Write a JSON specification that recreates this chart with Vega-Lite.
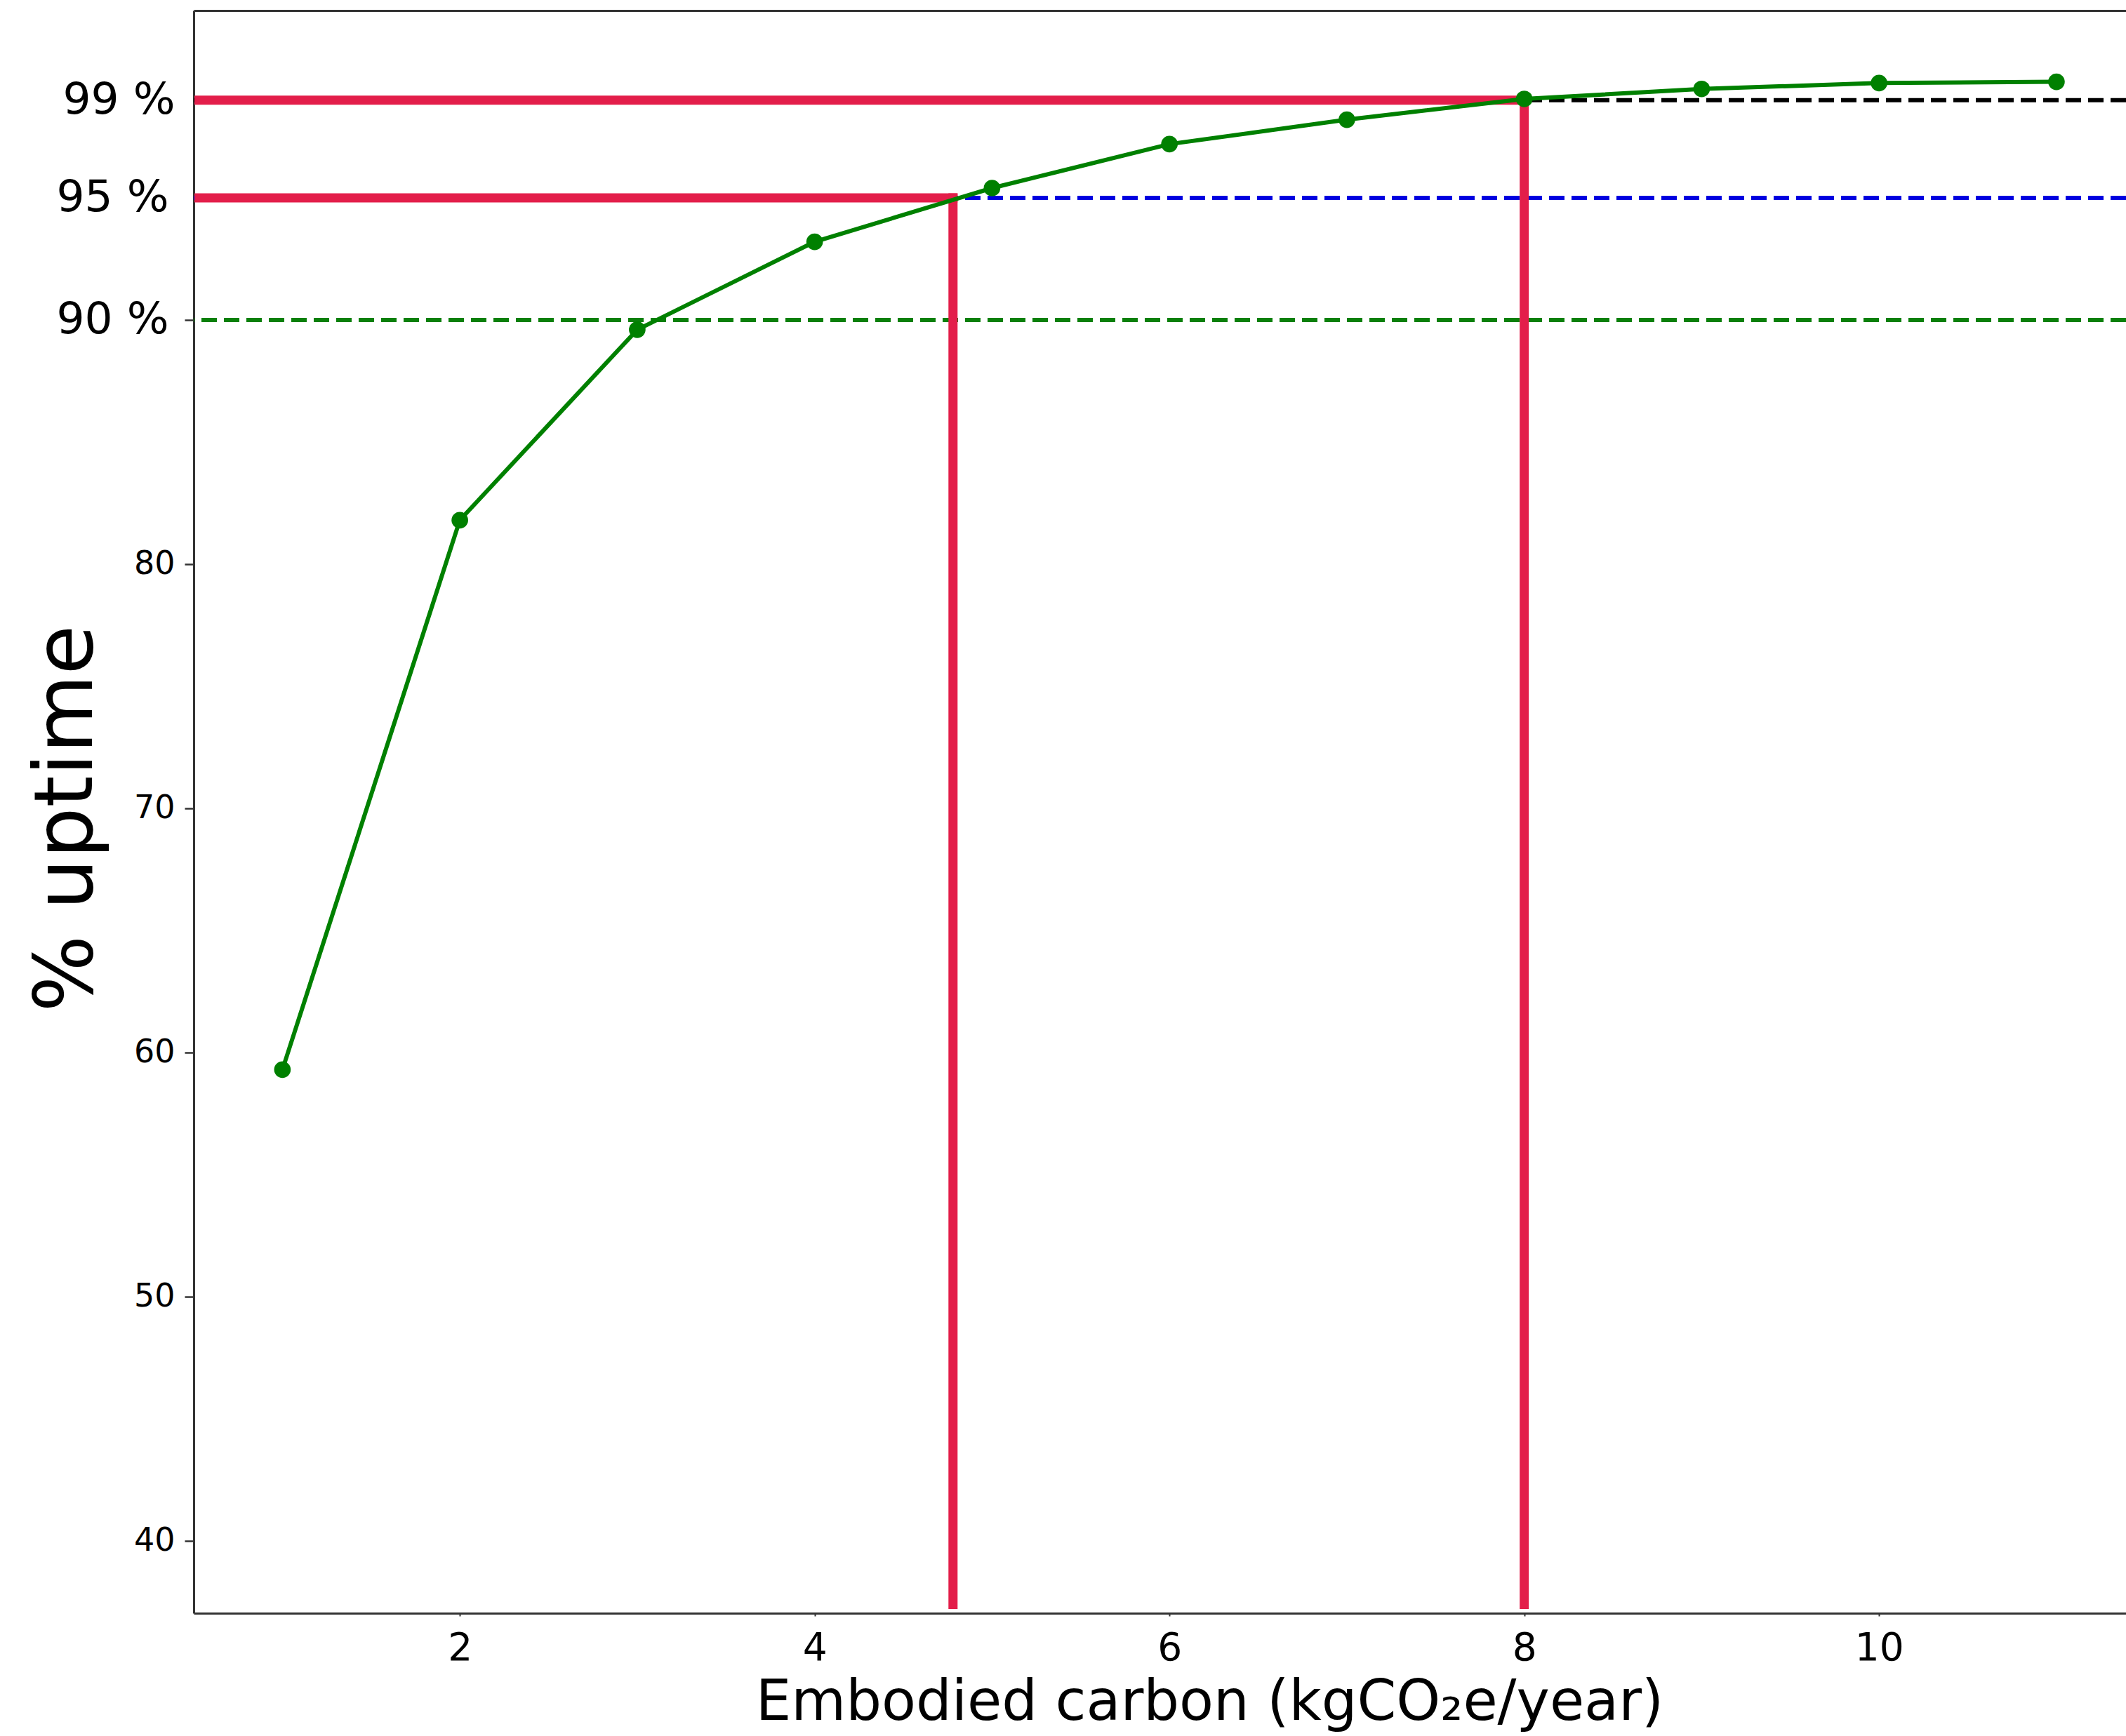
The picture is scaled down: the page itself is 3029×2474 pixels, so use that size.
{
  "$schema": "https://vega.github.io/schema/vega-lite/v6.json",
  "width": 2753,
  "height": 2284,
  "autosize": {"type": "none"},
  "padding": {"left": 276, "top": 15, "right": 0, "bottom": 175},
  "background": "white",
  "config": {"view": {"stroke": null}, "font": "DejaVu Sans"},
  "datasets": {
    "uptime": [
      {"carbon": 1, "uptime": 59.3},
      {"carbon": 2, "uptime": 81.8},
      {"carbon": 3, "uptime": 89.6},
      {"carbon": 4, "uptime": 93.2},
      {"carbon": 5, "uptime": 95.4},
      {"carbon": 6, "uptime": 97.2},
      {"carbon": 7, "uptime": 98.2},
      {"carbon": 8, "uptime": 99.05},
      {"carbon": 9, "uptime": 99.46},
      {"carbon": 10, "uptime": 99.7},
      {"carbon": 11, "uptime": 99.75}
    ],
    "thresholds": [
      {"level": 90, "band": "90 %"},
      {"level": 95, "band": "95 %"},
      {"level": 99, "band": "99 %"}
    ],
    "guides": [
      {"x": 0.53, "x2": 4.78, "y": 95, "y2": 95},
      {"x": 4.78, "x2": 4.78, "y": 95, "y2": 37.4},
      {"x": 0.53, "x2": 8.0, "y": 99, "y2": 99},
      {"x": 8.0, "x2": 8.0, "y": 99, "y2": 37.4}
    ]
  },
  "resolve": {"axis": {"x": "independent", "y": "independent"}},
  "layer": [
    {
      "data": {"name": "thresholds"},
      "mark": {"type": "rule", "strokeWidth": 6, "strokeDash": [22, 10]},
      "encoding": {
        "y": {
          "field": "level",
          "type": "quantitative",
          "scale": {"domain": [37.04, 102.67], "nice": false, "zero": false},
          "axis": {
            "values": [40, 50, 60, 70, 80, 90, 95, 99],
            "labelExpr": "datum.value >= 90 ? datum.value + ' %' : datum.label",
            "labelFontSize": {"condition": {"test": "datum.value >= 90", "value": 63}, "value": 46},
            "labelPadding": {"condition": {"test": "datum.value == 90 || datum.value == 95", "value": 23}, "value": 14},
            "tickOpacity": {"condition": {"test": "datum.value == 95 || datum.value == 99", "value": 0}, "value": 1},
            "labelColor": "black",
            "labelFont": "DejaVu Sans",
            "tickSize": 13,
            "tickWidth": 2.5,
            "tickColor": "#333333",
            "domainColor": "#333333",
            "domainWidth": 3,
            "grid": false,
            "title": "% uptime",
            "titleFont": "DejaVu Sans",
            "titleFontSize": 115,
            "titleFontWeight": "normal",
            "titleColor": "black",
            "titleAngle": 270,
            "titleBaseline": "alphabetic",
            "titleAlign": "center",
            "titleX": -146,
            "titleY": 1151
          }
        },
        "color": {
          "field": "band",
          "type": "nominal",
          "scale": {"domain": ["90 %", "95 %", "99 %"], "range": ["#0a800a", "#0000e0", "#000000"]},
          "legend": null
        }
      }
    },
    {
      "data": {"name": "guides"},
      "mark": {"type": "rule", "color": "#e31e4a", "strokeWidth": 13, "strokeCap": "square"},
      "encoding": {
        "x": {
          "field": "x",
          "type": "quantitative",
          "scale": {"domain": [0.5, 11.392], "nice": false, "zero": false},
          "axis": {
            "orient": "top",
            "labels": false,
            "ticks": false,
            "title": null,
            "grid": false,
            "domain": true,
            "domainColor": "#333333",
            "domainWidth": 3
          }
        },
        "x2": {"field": "x2"},
        "y": {"field": "y", "type": "quantitative", "scale": {"domain": [37.04, 102.67], "nice": false, "zero": false}, "axis": null},
        "y2": {"field": "y2"}
      }
    },
    {
      "data": {"name": "uptime"},
      "mark": {
        "type": "line",
        "color": "#008000",
        "strokeWidth": 6,
        "point": {"filled": true, "size": 560, "color": "#008000", "opacity": 1}
      },
      "encoding": {
        "x": {
          "field": "carbon",
          "type": "quantitative",
          "scale": {"domain": [0.5, 11.392], "nice": false, "zero": false},
          "axis": {
            "values": [2, 4, 6, 8, 10],
            "tickSize": 4,
            "tickWidth": 2,
            "tickColor": "#333333",
            "labelPadding": 19,
            "labelFontSize": 55,
            "labelFont": "DejaVu Sans",
            "labelColor": "black",
            "domainColor": "#333333",
            "domainWidth": 3,
            "grid": false,
            "title": "Embodied carbon (kgCO₂e/year)",
            "titleFont": "DejaVu Sans",
            "titleFontSize": 80,
            "titleFontWeight": "normal",
            "titleColor": "black",
            "titleX": 1447,
            "titleY": 151,
            "titleBaseline": "alphabetic",
            "titleAlign": "center"
          }
        },
        "y": {"field": "uptime", "type": "quantitative", "scale": {"domain": [37.04, 102.67], "nice": false, "zero": false}, "axis": null}
      }
    }
  ]
}
